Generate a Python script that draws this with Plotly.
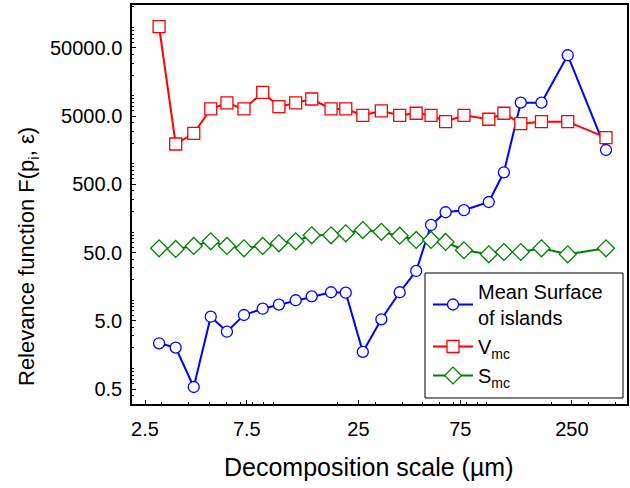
import plotly.graph_objects as go

scale = [2.91, 3.48, 4.23, 5.08, 6.05, 7.27, 8.90, 10.6, 12.7, 15.1, 18.6, 21.8, 26.2,
         32.0, 39.0, 46.6, 54.7, 64.0, 78.0, 102, 120, 144, 180, 239, 361]

mean_surface = [2.34, 2.02, 0.535, 5.74, 3.46, 6.08, 7.52, 8.61, 10.0, 11.4, 13.1, 12.9, 1.75,
                5.26, 13.1, 26.9, 127, 195, 209, 276, 752, 7890, 7890, 39100, 1597]

v_mc = [102600, 1954, 2805, 6380, 7810, 6380, 11200, 6890, 7810, 8930, 6380, 6380, 5150,
        5960, 5150, 5520, 5150, 4150, 5150, 4510, 5520, 3880, 4150, 4150, 2420]

s_mc = [57.8, 56.5, 62.5, 73.3, 62.5, 57.8, 62.5, 68.4, 73.3, 89.7, 89.7, 96.0, 107,
        101, 88.5, 76.6, 76.6, 71.5, 54.1, 47.2, 51.0, 51.0, 57.8, 47.2, 57.8]

x_tickvals = [2.5, 7.5, 25, 75, 250]
x_ticktext = ["2.5", "7.5", "25", "75", "250"]
y_tickvals = [0.5, 5, 50, 500, 5000, 50000]
y_ticktext = ["0.5", "5.0", "50.0", "500.0", "5000.0", "50000.0"]

W, H = 630, 488
L, R, T, B = 132, 3, 5, 84
PW, PH = W - L - R, H - T - B


def px_x(px):
    return (px - L) / PW


def px_y(py):
    return (H - B - py) / PH


fig = go.Figure()
fig.add_trace(go.Scatter(
    x=scale, y=mean_surface, mode="lines+markers", name="Mean Surface<br>of islands",
    line=dict(color="#0000ff", width=2),
    marker=dict(symbol="circle", size=11, color="white", line=dict(color="#0000ff", width=1.3))))
fig.add_trace(go.Scatter(
    x=scale, y=v_mc, mode="lines+markers", name="V<sub>mc</sub>",
    line=dict(color="#ff0000", width=2),
    marker=dict(symbol="square", size=12, color="white", line=dict(color="#ff0000", width=1.3))))
fig.add_trace(go.Scatter(
    x=scale, y=s_mc, mode="lines+markers", name="S<sub>mc</sub>",
    line=dict(color="#008000", width=2),
    marker=dict(symbol="diamond", size=13, color="white", line=dict(color="#008000", width=1.3))))

fig.update_layout(
    width=W, height=H,
    margin=dict(l=L, r=R, t=T, b=B),
    paper_bgcolor="white", plot_bgcolor="white",
    font=dict(family="Liberation Sans, Arial, sans-serif", size=20, color="black"),
    legend=dict(x=px_x(428), y=px_y(272), xanchor="left", yanchor="top",
                borderwidth=0, bgcolor="rgba(0,0,0,0)",
                font=dict(size=20), itemwidth=40, tracegroupgap=0),
    showlegend=True,
    shapes=[dict(type="rect", xref="paper", yref="paper",
                 x0=px_x(425), x1=px_x(623), y0=px_y(398), y1=px_y(273),
                 line=dict(color="black", width=1), fillcolor="white", layer="below")],
    annotations=[
        dict(text="Relevance function F(p<sub>i</sub>, ε)", textangle=-90,
             xref="paper", yref="paper", x=px_x(28), y=px_y(257),
             xanchor="center", yanchor="middle", showarrow=False,
             font=dict(size=22)),
        dict(text="Decomposition scale (µm)",
             xref="paper", yref="paper", x=px_x(369), y=px_y(467),
             xanchor="center", yanchor="middle", showarrow=False,
             font=dict(size=25)),
    ],
)
fig.update_xaxes(
    type="log", range=[0.337, 2.656], automargin=False,
    tickmode="array", tickvals=x_tickvals, ticktext=x_ticktext,
    ticks="inside", ticklen=4, tickcolor="black",
    minor=dict(ticks="inside", ticklen=2, tickcolor="black", dtick="D1", showgrid=False),
    showline=True, linecolor="black", linewidth=1.5, mirror=True,
    showgrid=False, zeroline=False,
    tickfont=dict(size=20), ticklabelstandoff=6,
)
fig.update_yaxes(
    type="log", range=[-0.521, 5.329], automargin=False,
    tickmode="array", tickvals=y_tickvals, ticktext=y_ticktext,
    ticks="inside", ticklen=4, tickcolor="black",
    minor=dict(ticks="inside", ticklen=2, tickcolor="black", dtick="D1", showgrid=False),
    showline=True, linecolor="black", linewidth=1.5, mirror=True,
    showgrid=False, zeroline=False,
    tickfont=dict(size=20), ticklabelstandoff=4,
)

fig.write_html("out.html", config={"displayModeBar": False},
               post_script="document.body.style.margin='0px';")
